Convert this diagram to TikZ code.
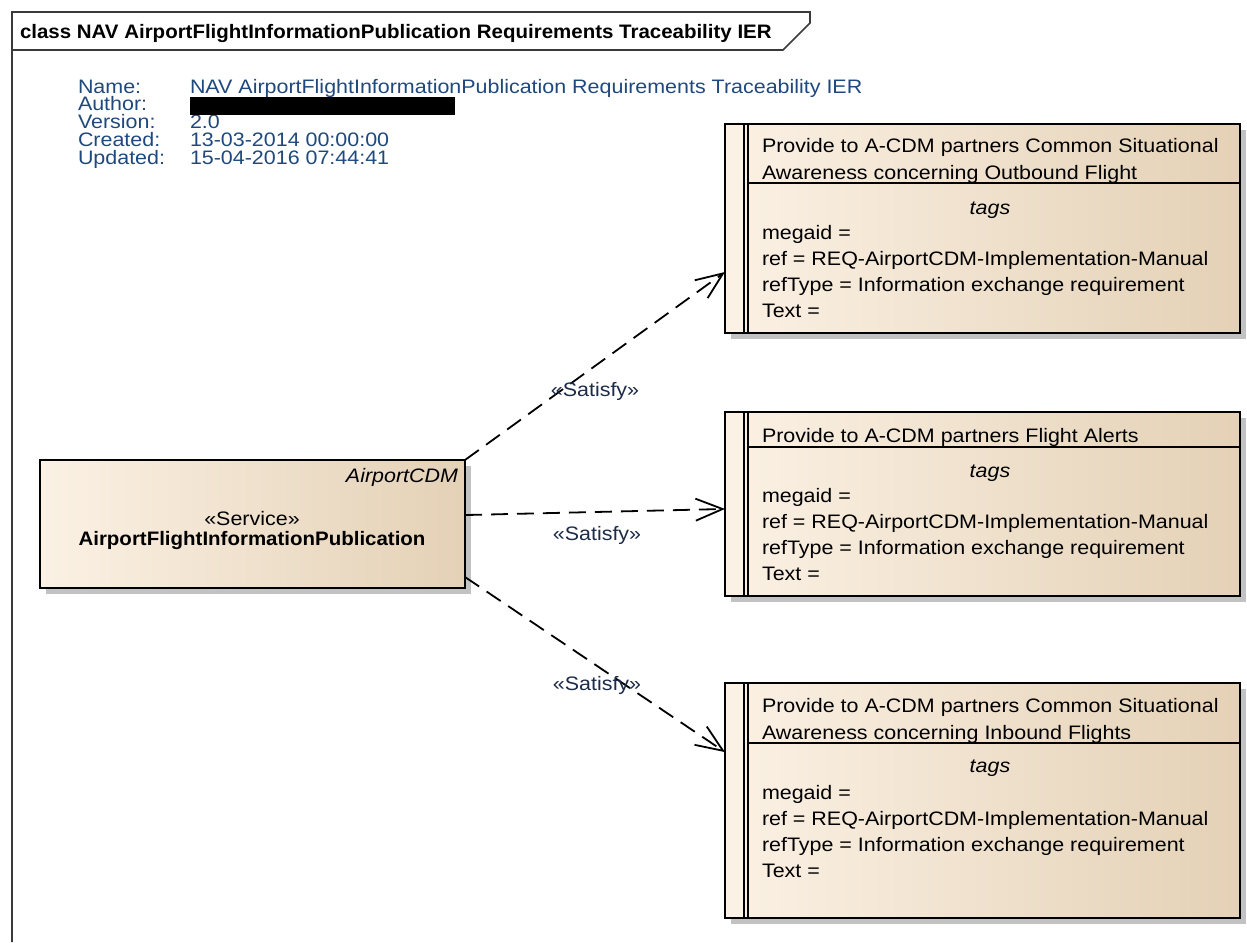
\documentclass[tikz,border=0pt]{standalone}
\usepackage{fontspec}
\setmainfont{Liberation Sans}
\newfontfamily\umlfont[FakeStretch=1.1,BoldFeatures={FakeStretch=1.05}]{Liberation Sans}
\usetikzlibrary{arrows.meta,calc,shadows}

\definecolor{boxlight}{HTML}{FBF1E4}
\definecolor{boxdark}{HTML}{E4D1B6}
\definecolor{shadowgray}{HTML}{C2C2C2}
\definecolor{metablue}{HTML}{1F497D}
\definecolor{labelnavy}{HTML}{1C2B48}
\definecolor{framegray}{HTML}{3A3A3A}

% stacked text lines at a fixed baseline distance;
% the node's baseline is the baseline of the first line
\newcommand\textlines[1]{\vtop{\lineskiplimit=-100pt\let\\\cr\halign{##\hfil\cr #1\crcr}}}

% requirement element: outer box, left stripe, title divider
\newcommand\reqframe[4]{%
  \node[umlbox, minimum width=515pt, minimum height=#3pt, anchor=north west] (#1) at (725,#2) {};
  \fill[boxlight] ([xshift=1pt,yshift=-1pt]#1.north west) rectangle ([xshift=19pt,yshift=1pt]#1.south west);
  \draw[line width=1.7pt] ([xshift=19pt]#1.north west) -- ([xshift=19pt]#1.south west)
                          ([xshift=23pt]#1.north west) -- ([xshift=23pt]#1.south west);
  \draw[line width=1.7pt] ([xshift=23pt]#1.west |- 0,#4) -- (#1.east |- 0,#4);
  \draw[line width=2.3pt] (#1.north west) rectangle (#1.south east);
}

\begin{document}
\begin{tikzpicture}[x=1pt,y=-1pt,
  every node/.style={inner sep=0pt, outer sep=0pt},
  txt/.style={font=\umlfont\fontsize{19.5}{26}\selectfont},
  titletxt/.style={font=\umlfont\fontsize{19.5}{27}\selectfont},
  metatxt/.style={font=\umlfont\fontsize{19.5}{17.8}\selectfont, text=metablue},
  umlbox/.style={draw, line width=2.3pt, left color=boxlight, right color=boxdark,
    drop shadow={shadow xshift=6pt, shadow yshift=-6pt, fill=shadowgray, draw=none, opacity=1}},
  satisfy/.style={draw=black, line width=1.8pt, dash pattern=on 17pt off 9pt,
    -{Straight Barb[length=27pt,width=22pt,line width=1.8pt]}},
  stereo/.style={txt, text=labelnavy}]

\useasboundingbox (0,0) rectangle (1247,942);

% diagram frame with its name tab
\draw[framegray, line width=1.6pt] (12,942) -- (12,12) -- (810,12) -- (810,23) -- (783,50) -- (12,50);
\node[txt, font=\umlfont\bfseries\fontsize{19.5}{26}\selectfont, anchor=base west] (frametitle) at (20,38)
  {class NAV AirportFlightInformationPublication Requirements Traceability IER};

% diagram properties
\node[metatxt, anchor=base west] (metakeys) at (78,93)
  {\textlines{Name:\\Author:\\Version:\\Created:\\Updated:}};
\node[metatxt, anchor=base west] (metavals) at (190,93)
  {\textlines{NAV AirportFlightInformationPublication Requirements Traceability IER\\ \\2.0\\13-03-2014 00:00:00\\15-04-2016 07:44:41}};
\fill[black] (190,97) rectangle (455,115);

% service element
\node[umlbox, minimum width=425pt, minimum height=128pt, anchor=north west] (svc) at (40,460) {};
\node[txt, font=\umlfont\itshape\fontsize{19.5}{26}\selectfont, anchor=base east] (svcpkg) at (458,482) {AirportCDM};
\node[txt, anchor=base] (svcstereo) at (252,525) {«Service»};
\node[txt, font=\umlfont\bfseries\fontsize{19.5}{26}\selectfont, anchor=base] (svcname) at (252,545) {AirportFlightInformationPublication};

% requirement 1
\reqframe{req1}{124}{209}{183}
\node[titletxt, anchor=base west] (req1title) at (762,152)
  {\textlines{Provide to A-CDM partners Common Situational\\Awareness concerning Outbound Flight}};
\node[txt, font=\umlfont\itshape\fontsize{19.5}{26}\selectfont, anchor=base] (req1tags) at (990,214) {tags};
\node[txt, anchor=base west] (req1vals) at (762,239)
  {\textlines{megaid =\\ref = REQ-AirportCDM-Implementation-Manual\\refType = Information exchange requirement\\Text =}};

% requirement 2
\reqframe{req2}{412}{184}{447}
\node[titletxt, anchor=base west] (req2title) at (762,442)
  {\textlines{Provide to A-CDM partners Flight Alerts}};
\node[txt, font=\umlfont\itshape\fontsize{19.5}{26}\selectfont, anchor=base] (req2tags) at (990,477) {tags};
\node[txt, anchor=base west] (req2vals) at (762,502)
  {\textlines{megaid =\\ref = REQ-AirportCDM-Implementation-Manual\\refType = Information exchange requirement\\Text =}};

% requirement 3
\reqframe{req3}{683}{235}{743}
\node[titletxt, anchor=base west] (req3title) at (762,712)
  {\textlines{Provide to A-CDM partners Common Situational\\Awareness concerning Inbound Flights}};
\node[txt, font=\umlfont\itshape\fontsize{19.5}{26}\selectfont, anchor=base] (req3tags) at (990,772) {tags};
\node[txt, anchor=base west] (req3vals) at (762,799)
  {\textlines{megaid =\\ref = REQ-AirportCDM-Implementation-Manual\\refType = Information exchange requirement\\Text =}};

% satisfy relations
\draw[satisfy] (svc.north east) -- ($(req1.north west)!0.708!(req1.south west)$);
\draw[satisfy] ($(svc.north east)!0.43!(svc.south east)$) -- ($(req2.north west)!0.527!(req2.south west)$);
\draw[satisfy] ($(svc.north east)!0.914!(svc.south east)$) -- ($(req3.north west)!0.294!(req3.south west)$);

\node[stereo, anchor=base] (sat1) at (595,396) {«Satisfy»};
\node[stereo, anchor=base] (sat2) at (597,540) {«Satisfy»};
\node[stereo, anchor=base] (sat3) at (597,690) {«Satisfy»};

\end{tikzpicture}
\end{document}
